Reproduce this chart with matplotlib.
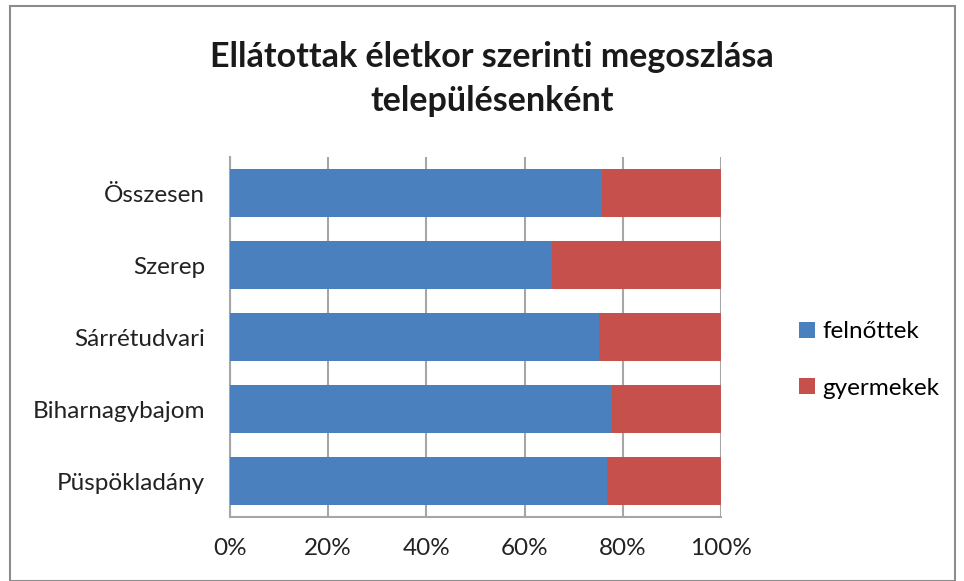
import matplotlib
matplotlib.use("Agg")
import matplotlib.pyplot as plt
from matplotlib.patches import Rectangle

categories = ["Püspökladány", "Biharnagybajom", "Sárrétudvari", "Szerep", "Összesen"]
felnottek = [76.8, 77.8, 75.2, 65.6, 75.8]
gyermekek = [100 - v for v in felnottek]
xticks = [0, 20, 40, 60, 80, 100]
xticklabels = ["0%", "20%", "40%", "60%", "80%", "100%"]

plt.rcParams['font.family'] = ['Lato', 'DejaVu Sans']

W, H = 964, 581
fig = plt.figure(figsize=(W/100, H/100), dpi=100)
fig.patches.append(Rectangle((10/W, 0), 945/W, 1 - 6/H, transform=fig.transFigure,
                             fill=False, edgecolor='#8c8c8c', linewidth=1.5))

ax = fig.add_axes([230/W, 1 - 517/H, 491/W, (517 - 157)/H])
y = list(range(len(categories)))
ax.barh(y, felnottek, height=0.66, color='#4A80BE', zorder=3, label='felnőttek')
ax.barh(y, gyermekek, left=felnottek, height=0.66, color='#C6504C', zorder=3, label='gyermekek')

ax.set_xlim(0, 100)
ax.set_ylim(-0.5, 4.5)
ax.set_xticks(xticks)
ax.set_xticklabels(xticklabels, fontsize=17.5, color='#222222')
ax.set_yticks(y)
ax.set_yticklabels(categories, fontsize=17.5, color='#222222')
ax.tick_params(axis='x', length=0, pad=15)
ax.tick_params(axis='y', length=0, pad=18)
ax.grid(axis='x', color='#a6a6a6', linewidth=1.5, zorder=0)
for s in ['top', 'right']:
    ax.spines[s].set_visible(False)
for s in ['left', 'bottom']:
    ax.spines[s].set_color('#a6a6a6')
    ax.spines[s].set_linewidth(1.5)

fig.text(492/W, 1 - 57/H, "Ellátottak életkor szerinti megoszlása", ha='center', va='center',
         fontsize=24.5, fontweight='bold', color='#1a1a1a')
fig.text(492/W, 1 - 101/H, "településenként", ha='center', va='center',
         fontsize=24.5, fontweight='bold', color='#1a1a1a')

ax.legend(loc='center left', bbox_to_anchor=(777/W, 1 - 360/H), bbox_transform=fig.transFigure,
          frameon=False, fontsize=17.5, handlelength=0.65, handleheight=0.65, handletextpad=0.3,
          labelspacing=1.45)

fig.savefig("out.png", dpi=100)
